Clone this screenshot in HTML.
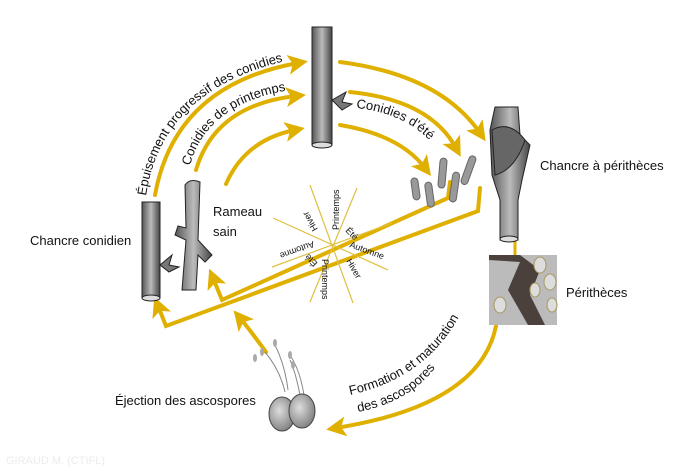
<!DOCTYPE html>
<html><head><meta charset="utf-8"><style>
html,body{margin:0;padding:0;background:#fff;}
svg{display:block;}
text{font-family:"Liberation Sans",sans-serif;fill:#111;}
</style></head><body>
<svg width="700" height="471" viewBox="0 0 700 471" xmlns="http://www.w3.org/2000/svg">
<defs>
<marker id="ah" markerWidth="5" markerHeight="5" refX="2.5" refY="2.5" orient="auto" markerUnits="strokeWidth">
<path d="M0,0 L5,2.5 L0,5 L1.2,2.5 Z" fill="#e0b000"/></marker>
<linearGradient id="gs" x1="0" x2="1"><stop offset="0" stop-color="#555"/><stop offset="0.5" stop-color="#bbb"/><stop offset="1" stop-color="#444"/></linearGradient>
<radialGradient id="gb" cx="0.4" cy="0.4" r="0.7"><stop offset="0" stop-color="#ddd"/><stop offset="1" stop-color="#777"/></radialGradient>
<path id="p1" d="M146,196 Q163,82 305,57"/>
<path id="p2" d="M190,166 Q208,98 305,88"/>
<path id="p3" d="M356,108 Q415,114 442,156"/>
<path id="p4" d="M350,395 Q440,375 470,292"/>
<path id="p5" d="M358,412 Q420,400 445,352"/>
</defs>
<g fill="none" stroke="#e0b000" stroke-width="4" stroke-linecap="round">
<path d="M155,195 Q175,85 298,63" marker-end="url(#ah)"/>
<path d="M196,170 Q215,105 296,96" marker-end="url(#ah)"/>
<path d="M226,184 Q245,140 295,130" marker-end="url(#ah)"/>
<path d="M340,62 Q440,75 480,133" marker-end="url(#ah)"/>
<path d="M350,92 Q430,100 456,148" marker-end="url(#ah)"/>
<path d="M340,125 Q400,135 425,168" marker-end="url(#ah)"/>
<path d="M450,182 L448,198 L222,300 L213,278" marker-end="url(#ah)" stroke-linejoin="miter"/>
<path d="M480,188 L478,211 L166,326 L158,306" marker-end="url(#ah)"/>
<path d="M266,352 Q250,330 240,318" marker-end="url(#ah)"/>
<path d="M496,326 Q480,405 336,428" marker-end="url(#ah)"/>
<path d="M515,240 L515,256" stroke-width="3"/>
</g>
<g stroke="#e0c040" stroke-width="1.2">
<line x1="310" y1="185" x2="353" y2="303"/><line x1="357" y1="188" x2="310" y2="302"/>
<line x1="273" y1="218" x2="388" y2="270"/><line x1="392" y1="223" x2="272" y2="267"/>
</g>
<g font-size="9">
<text transform="translate(339,230) rotate(-90)">Printemps</text>
<text transform="translate(345,231) rotate(45)">Été</text>
<text transform="translate(349,247) rotate(20)">Automne</text>
<text transform="translate(346,261) rotate(60)">Hiver</text>
<text transform="translate(322,259) rotate(90)">Printemps</text>
<text transform="translate(318,263) rotate(-135)">Été</text>
<text transform="translate(313,241) rotate(160)">Automne</text>
<text transform="translate(318,229) rotate(-120)">Hiver</text>
</g>
<rect x="142" y="202" width="18" height="96" fill="url(#gs)" stroke="#222"/>
<ellipse cx="151" cy="298" rx="9" ry="3" fill="#ddd" stroke="#222"/>
<path d="M160,265 l12,-10 l-3,10 l10,2 l-10,5 Z" fill="#777" stroke="#222"/>
<path d="M185,185 Q190,178 200,182 L198,240 L212,255 L205,262 L198,255 L196,290 L182,290 L186,240 L175,235 L178,226 L186,228 Z" fill="url(#gs)" stroke="#222"/>
<rect x="312" y="27" width="20" height="118" fill="url(#gs)" stroke="#222"/>
<ellipse cx="322" cy="145" rx="10" ry="3" fill="#ddd" stroke="#222"/>
<path d="M332,100 l14,-8 l-4,10 l10,2 l-10,6 Z" fill="#777" stroke="#222"/>
<path d="M495,107 L518,107 L520,135 L530,145 L522,180 L518,200 L518,240 L500,240 L500,200 L492,175 L490,130 Z" fill="url(#gs)" stroke="#222"/>
<path d="M492,130 Q510,120 525,140 Q515,170 495,175 Z" fill="#666" stroke="#222"/>
<ellipse cx="509" cy="239" rx="9" ry="3" fill="#ddd" stroke="#222"/>
<g fill="#999" stroke="#666" stroke-width="1">
<rect x="412" y="178" width="7" height="22" rx="3.5" transform="rotate(-8 415 189)"/>
<rect x="426" y="182" width="7" height="25" rx="3.5" transform="rotate(-8 430 194)"/>
<rect x="439" y="158" width="7" height="30" rx="3.5" transform="rotate(5 442 173)"/>
<rect x="451" y="172" width="7" height="30" rx="3.5" transform="rotate(8 454 187)"/>
<rect x="465" y="155" width="7" height="30" rx="3.5" transform="rotate(20 468 170)"/>
</g>
<rect x="489" y="255" width="68" height="70" fill="#bbb"/>
<path d="M489,260 L520,262 L508,290 L528,325 L545,325 L530,295 L540,270 L520,255 L489,255 Z" fill="#4a403c"/>
<g fill="#ddd" stroke="#a89a60" stroke-width="1">
<ellipse cx="540" cy="265" rx="6" ry="8"/><ellipse cx="550" cy="282" rx="6" ry="8"/><ellipse cx="500" cy="305" rx="6" ry="8"/><ellipse cx="535" cy="290" rx="5" ry="7"/><ellipse cx="552" cy="305" rx="5" ry="7"/>
</g>
<g stroke="#888" stroke-width="1" fill="none">
<path d="M285,392 Q280,370 265,352"/><path d="M288,390 Q285,365 275,345"/><path d="M300,395 Q295,370 290,360"/><path d="M304,395 Q300,370 290,355"/>
</g>
<g fill="#aaa"><ellipse cx="262" cy="352" rx="2" ry="4"/><ellipse cx="275" cy="343" rx="2" ry="4"/><ellipse cx="290" cy="355" rx="2" ry="4"/><ellipse cx="293" cy="365" rx="2" ry="4"/><ellipse cx="255" cy="358" rx="2" ry="4"/></g>
<ellipse cx="282" cy="414" rx="13" ry="17" fill="url(#gb)" stroke="#444"/>
<ellipse cx="302" cy="411" rx="13" ry="17" fill="url(#gb)" stroke="#444"/>
<g font-size="13">
<text x="30" y="245">Chancre conidien</text>
<text x="213" y="216">Rameau</text><text x="213" y="236">sain</text>
<text x="540" y="170">Chancre à périthèces</text>
<text x="566" y="297">Périthèces</text>
<text x="115" y="405">Éjection des ascospores</text>
<text><textPath href="#p1">Épuisement progressif des conidies</textPath></text>
<text><textPath href="#p2">Conidies de printemps</textPath></text>
<text><textPath href="#p3">Conidies d'été</textPath></text>
<text><textPath href="#p4">Formation et maturation</textPath></text>
<text><textPath href="#p5">des ascospores</textPath></text>
</g>
<text x="6" y="464" font-size="11" style="fill:#ececec">GIRAUD M. (CTIFL)</text>
</svg>
</body></html>
